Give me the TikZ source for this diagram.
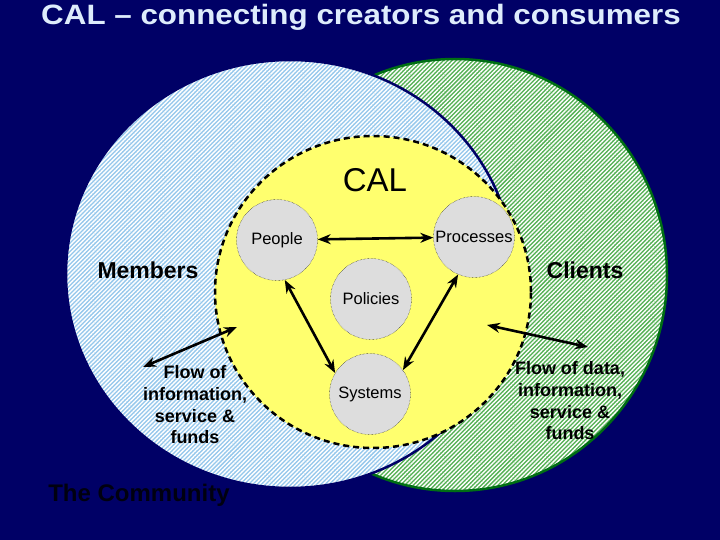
\documentclass[tikz,border=0pt]{standalone}
\usepackage{fontspec}
\setmainfont{Liberation Sans}
\usetikzlibrary{arrows.meta,patterns.meta}
\definecolor{navy}{RGB}{0,0,102}
\definecolor{titleblue}{RGB}{222,236,252}
\definecolor{hatchblue}{RGB}{150,200,236}
\definecolor{hatchgreen}{RGB}{84,176,84}
\definecolor{rimgreen}{RGB}{0,110,20}
\definecolor{calyellow}{RGB}{255,255,110}
\definecolor{discgray}{RGB}{221,221,221}

\begin{document}
\begin{tikzpicture}[x=1pt,y=-1pt]
            \tikzstyle{blue hatch}=[preaction={fill=hatchblue},pattern={Lines[angle=45,distance=3pt,line width=1.4pt]},pattern color=white]
            \tikzstyle{green hatch}=[preaction={fill=hatchgreen},pattern={Lines[angle=45,distance=3pt,line width=1.4pt]},pattern color=white]
            \tikzstyle{gray node}=[circle,draw,densely dotted,fill=discgray,minimum size=81pt,inner sep=0pt,font=\fontsize{16.5}{18}\selectfont]
            \tikzstyle{area label}=[font=\bfseries\fontsize{23}{26}\selectfont]
            \tikzstyle{flow label}=[align=center,font=\bfseries\fontsize{18}{21.7}\selectfont]
            \tikzstyle{flow}=[{Stealth[length=13pt,width=10pt]}-{Stealth[length=13pt,width=10pt]},line width=2.6pt]

            \useasboundingbox[fill=navy] (0,0) rectangle (720,540);

            % the three areas
            \draw[green hatch,draw=rimgreen,line width=2.5pt] (455,275) ellipse [x radius=212pt,y radius=216pt];
            \draw[blue hatch,draw=navy,line width=2.5pt] (290,274) ellipse [x radius=224pt,y radius=214pt];
            \draw[fill=calyellow,dash pattern=on 6pt off 4pt,line width=2.5pt] (373,292) ellipse [x radius=158pt,y radius=156pt];

            \node(title)[text=titleblue,xscale=1.12,font=\bfseries\fontsize{28}{32}\selectfont] at (361,17) {CAL – connecting creators and consumers};
            \node(cal)[font=\fontsize{33}{36}\selectfont] at (375,180) {CAL};
            \node(members)[area label] at (148,270) {Members};
            \node(clients)[area label] at (585,270) {Clients};
            \node(community)[area label,text=black!85!navy,font=\bfseries\fontsize{24}{26}\selectfont] at (139,495) {The Community};

            \node(people)[gray node] at (277,240) {People};
            \node(processes)[gray node] at (474,237) {Processes};
            \node(policies)[gray node] at (371,299) {Policies};
            \node(systems)[gray node] at (370,394) {Systems};

            \node(flowleft)[flow label] at (195,405) {Flow of\\information,\\service \&\\funds};
            \node(flowright)[flow label] at (570,401) {Flow of data,\\information,\\service \&\\funds};

            \coordinate(leftout) at (143,367);
            \coordinate(leftin) at (237,327);
            \coordinate(rightin) at (487,325);
            \coordinate(rightout) at (588,347);

            \draw[flow] (people) -- (processes);
            \draw[flow] (people.-79) -- (systems.149);
            \draw[flow] (processes.-113) -- (systems.36);
            \draw[flow] (leftout) -- (leftin);
            \draw[flow] (rightin) -- (rightout);
        \end{tikzpicture}
\end{document}
